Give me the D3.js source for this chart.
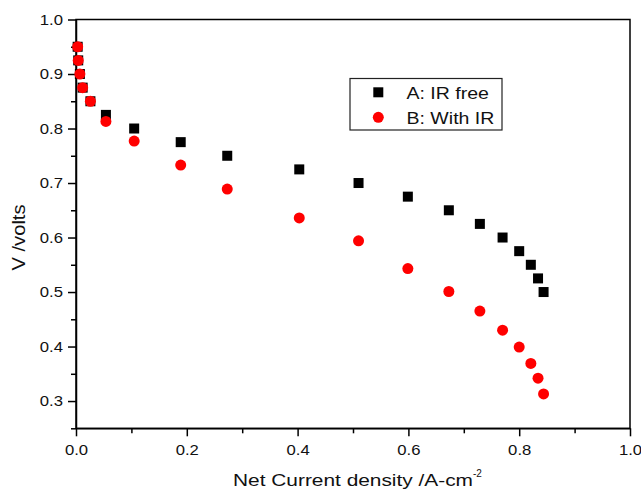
<!DOCTYPE html>
<html>
<head>
<meta charset="utf-8">
<script src="https://cdn.jsdelivr.net/npm/d3@7"></script>
<style>
  body { margin: 0; background: #fff; }
  svg { display: block; font-family: "Liberation Sans", Arial, sans-serif; }
</style>
</head>
<body>
<div id="chart"></div>
<script>
// current density (A/cm2), shared by both series
const current = [0.003, 0.004, 0.007, 0.012, 0.026, 0.054, 0.105, 0.189, 0.273, 0.403,
                 0.51, 0.599, 0.673, 0.729, 0.77, 0.8, 0.821, 0.834, 0.844];
const voltIRFree = [0.95, 0.925, 0.9, 0.875, 0.85, 0.825, 0.8, 0.775, 0.75, 0.725,
                    0.7, 0.675, 0.65, 0.625, 0.6, 0.575, 0.55, 0.525, 0.5];
const voltWithIR = [0.95, 0.925, 0.9, 0.875, 0.85, 0.813, 0.777, 0.733, 0.689, 0.636,
                    0.594, 0.543, 0.501, 0.465, 0.43, 0.399, 0.369, 0.342, 0.313];
const seriesNames = ["A: IR free", "B: With IR"];
const xTicks = [0, 0.2, 0.4, 0.6, 0.8, 1.0];
const xMinor = [0.1, 0.3, 0.5, 0.7, 0.9];
const yTicks = [0.3, 0.4, 0.5, 0.6, 0.7, 0.8, 0.9, 1.0];
const yMinor = [0.25, 0.35, 0.45, 0.55, 0.65, 0.75, 0.85, 0.95];

const width = 641, height = 492;
const plotL = 76, plotR = 630, plotT = 19.5, plotB = 428.3;

// the original's lettering is a bit wide, stretch text sideways to match
const stretch = (sel, f) => sel.each(function () {
    const w = this.getComputedTextLength();
    d3.select(this).attr("textLength", w * f).attr("lengthAdjust", "spacingAndGlyphs");
});

const svg = d3.select("#chart").append("svg")
    .attr("width", width)
    .attr("height", height);

const x = d3.scaleLinear().domain([0, 1]).range([plotL, plotR]);
const y = d3.scaleLinear().domain([0.25, 1]).range([plotB, plotT]);

// frame (top + right plain lines)
svg.append("rect")
    .attr("x", plotL).attr("y", plotT)
    .attr("width", plotR - plotL).attr("height", plotB - plotT)
    .attr("fill", "none")
    .attr("stroke", "#000")
    .attr("stroke-width", 1.5);

// minor ticks
svg.append("g")
    .attr("transform", `translate(0,${plotB})`)
    .call(d3.axisBottom(x).tickValues(xMinor).tickSize(5).tickFormat(""))
    .call(g => g.select(".domain").remove())
    .selectAll("line").attr("stroke-width", 1.5);

svg.append("g")
    .attr("transform", `translate(${plotL},0)`)
    .call(d3.axisLeft(y).tickValues(yMinor).tickSize(5).tickFormat(""))
    .call(g => g.select(".domain").remove())
    .selectAll("line").attr("stroke-width", 1.5);

const xAxis = svg.append("g")
    .attr("transform", `translate(0,${plotB})`)
    .call(d3.axisBottom(x).tickValues(xTicks).tickSize(8).tickPadding(8)
        .tickSizeOuter(0).tickFormat(d3.format(".1f")));

const yAxis = svg.append("g")
    .attr("transform", `translate(${plotL},0)`)
    .call(d3.axisLeft(y).tickValues(yTicks).tickSize(8).tickPadding(5)
        .tickSizeOuter(0).tickFormat(d3.format(".1f")));

[xAxis, yAxis].forEach(ax => {
    ax.select(".domain").attr("stroke-width", 1.5);
    ax.selectAll("line").attr("stroke-width", 1.5);
    ax.selectAll("text")
        .attr("font-family", "'Liberation Sans', Arial, sans-serif")
        .attr("font-size", 14.5)
        .attr("fill", "#111")
        .call(stretch, 1.15);
});

// series A: black squares
const sq = 10;
svg.append("g")
    .selectAll("rect")
    .data(current.map((c, i) => [c, voltIRFree[i]]))
    .enter()
    .append("rect")
    .attr("x", d => x(d[0]) - sq / 2)
    .attr("y", d => y(d[1]) - sq / 2)
    .attr("width", sq)
    .attr("height", sq)
    .attr("fill", "#000");

// series B: red circles
svg.append("g")
    .selectAll("circle")
    .data(current.map((c, i) => [c, voltWithIR[i]]))
    .enter()
    .append("circle")
    .attr("cx", d => x(d[0]))
    .attr("cy", d => y(d[1]))
    .attr("r", 5.5)
    .attr("fill", "#ff0000");

// legend
const legend = svg.append("g");
legend.append("rect")
    .attr("x", 350).attr("y", 78.5)
    .attr("width", 152).attr("height", 51.5)
    .attr("fill", "#fff")
    .attr("stroke", "#222")
    .attr("stroke-width", 1.2);

legend.append("rect")
    .attr("x", 378.3 - sq / 2).attr("y", 92.3 - sq / 2)
    .attr("width", sq).attr("height", sq)
    .attr("fill", "#000");
legend.append("circle")
    .attr("cx", 378.3).attr("cy", 117.3).attr("r", 5.5)
    .attr("fill", "#ff0000");

legend.selectAll("text")
    .data(seriesNames)
    .enter()
    .append("text")
    .attr("x", 406.5)
    .attr("y", (d, i) => 98.5 + i * 25.5)
    .attr("font-size", 16)
    .attr("fill", "#111")
    .text(d => d)
    .call(stretch, 1.22);

// axis titles
const xTitle = svg.append("text")
    .attr("x", 233)
    .attr("y", 486)
    .attr("font-size", 17)
    .attr("fill", "#111");
xTitle.append("tspan")
    .attr("textLength", 240)
    .attr("lengthAdjust", "spacingAndGlyphs")
    .text("Net Current density /A-cm");
xTitle.append("tspan")
    .attr("dy", -9)
    .attr("font-size", 10)
    .text("-2");

svg.append("text")
    .attr("transform", `translate(24.5,237.5) rotate(-90)`)
    .attr("text-anchor", "middle")
    .attr("font-size", 18)
    .attr("fill", "#111")
    .text("V /volts")
    .call(stretch, 1.12);
</script>
</body>
</html>
